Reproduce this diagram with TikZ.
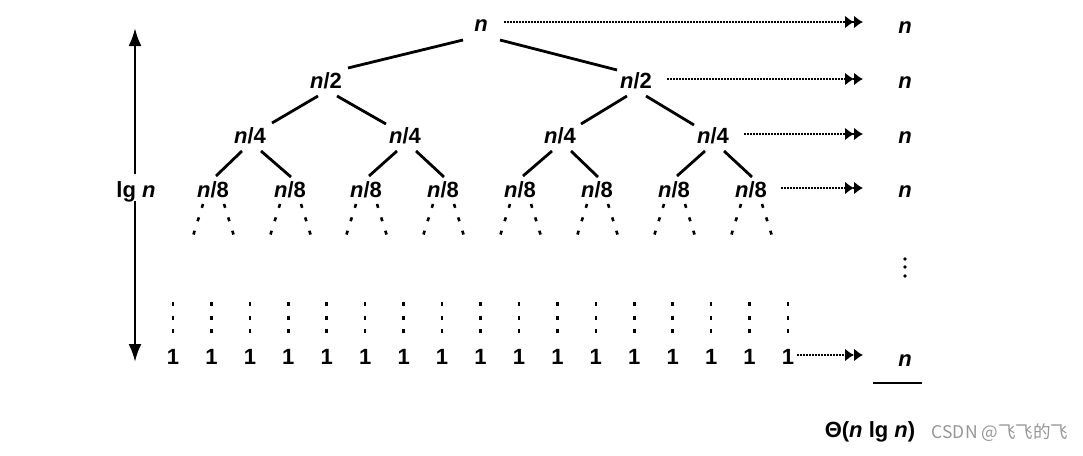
\documentclass[tikz,border=0pt]{standalone}
\usepackage{fontspec}
\setmainfont{Liberation Sans}
\newfontfamily\cjkfont{Noto Sans CJK SC}
\usetikzlibrary{arrows.meta}
\newcommand\nv{\textit{n}}
\definecolor{wmgray}{RGB}{150,150,150}
\begin{document}
\begin{tikzpicture}[x=1pt,y=-1pt,
  lbl/.style={anchor=base,inner sep=0pt,font=\fontsize{22}{25}\selectfont\bfseries},
  edge/.style={line width=2.8pt},
  stub/.style={line width=2.6pt,dash pattern=on 4pt off 10pt},
  col/.style={line width=2.6pt,dash pattern=on 4pt off 9.5pt},
  dotarr/.style={line width=1.7pt,dash pattern=on 1.6pt off 1.4pt,-{Latex[length=9pt,width=13pt]Latex[length=9pt,width=13pt]}},
  bigarr/.style={line width=2.6pt,-{Latex[length=18pt,width=13pt]}}
]
\useasboundingbox (0,0) rectangle (1083,455);
% tree
\node[lbl] (root) at (481,31) {\nv};
\node[lbl] (n2L) at (326,88) {\nv/2};
\node[lbl] (n2R) at (636,88) {\nv/2};
\foreach \i/\x in {1/250,2/405,3/560,4/713}
  \node[lbl] (n4\i) at (\x,143) {\nv/4};
\foreach \i/\x in {1/213,2/290,3/366,4/443,5/520,6/597,7/674,8/751}
  \node[lbl] (n8\i) at (\x,197) {\nv/8};
% edges level 1
\draw[edge] ([shift={(-18,9)}]root.base) -- ([shift={(22,-20)}]n2L.base);
\draw[edge] ([shift={(19,9)}]root.base) -- ([shift={(-19,-18)}]n2R.base);
% edges level 2
\draw[edge] ([shift={(-8,8)}]n2L.base) -- ([shift={(22,-20)}]n41.base);
\draw[edge] ([shift={(11,8)}]n2L.base) -- ([shift={(-19,-19)}]n42.base);
\draw[edge] ([shift={(-9,8)}]n2R.base) -- ([shift={(21,-19)}]n43.base);
\draw[edge] ([shift={(10,8)}]n2R.base) -- ([shift={(-19,-18)}]n44.base);
% edges level 3
\foreach \p/\l/\r in {1/1/2,2/3/4,3/5/6,4/7/8}{
  \draw[edge] ([shift={(-8,8)}]n4\p.base) -- ([shift={(3,-21)}]n8\l.base);
  \draw[edge] ([shift={(11,8)}]n4\p.base) -- ([shift={(1,-20)}]n8\r.base);
}
% dotted stubs
\foreach \i in {1,...,8}{
  \draw[stub] ([shift={(-10,7)}]n8\i.base) -- ([shift={(-20,39)}]n8\i.base);
  \draw[stub] ([shift={(11,7)}]n8\i.base) -- ([shift={(21,39)}]n8\i.base);
}
% leaves
\foreach \i in {1,...,17}{
  \node[lbl] (lf\i) at ({173+38.4375*(\i-1)},364) {1};
  \draw[col] ([yshift=62pt]lf\i.base) -- ([yshift=28pt]lf\i.base);
}
% right column
\foreach \i/\y in {1/33,2/88,3/143,4/197,5/366}
  \node[lbl] (r\i) at (905,\y) {\nv};
\foreach \y in {259,267,276}
  \fill (905,\y) circle (1.8pt);
\coordinate (tip) at (863,0);
\coordinate (s1) at ([shift={(16pt,9pt)}]root.base east);
\coordinate (s2) at ([shift={(15pt,9pt)}]n2R.base east);
\coordinate (s3) at ([shift={(15pt,9pt)}]n44.base east);
\coordinate (s4) at ([shift={(14pt,9pt)}]n88.base east);
\coordinate (s5) at ([shift={(3pt,9pt)}]lf17.base east);
\foreach \i in {1,...,5}
  \draw[dotarr] (s\i) -- (s\i -| tip);
% lg n arrow
\node[lbl] (lgn) at (136,197) {lg \nv};
\coordinate (lgtop) at (135,28);
\coordinate (lgbot) at (135,362);
\coordinate (lgup) at ([yshift=7pt]lgn.north);
\coordinate (lgdn) at ([yshift=1pt]lgn.south);
\draw[bigarr] (lgup -| lgtop) -- (lgtop);
\draw[bigarr] (lgdn -| lgbot) -- (lgbot);
% sum
\coordinate (ul1) at (873,383);
\coordinate (ul2) at (922,383);
\draw[line width=2.2pt] (ul1) -- (ul2);
\node[lbl] (total) at (870,437) {Θ(\nv{} lg \nv)};
\node[anchor=base,inner sep=0pt,font=\cjkfont\fontsize{17.5}{20}\selectfont,text=wmgray] (wm) at (1000,438) {CSDN @飞飞的飞};
\end{tikzpicture}
\end{document}
